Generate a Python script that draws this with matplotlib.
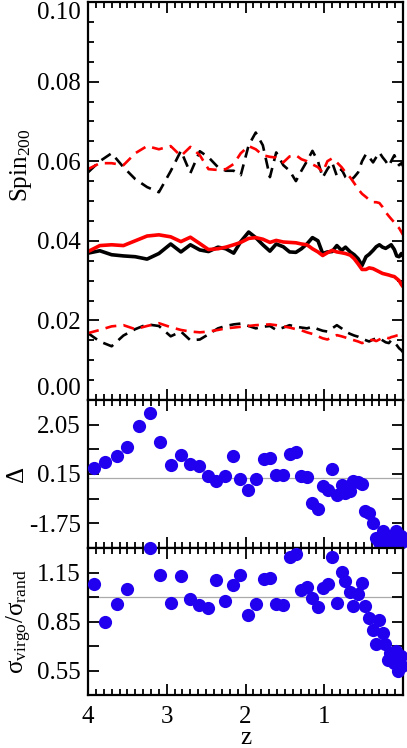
import numpy as np
import matplotlib
matplotlib.use('Agg')
import matplotlib.pyplot as plt
from matplotlib.ticker import MultipleLocator, FixedLocator

plt.rcParams['font.family'] = 'Liberation Serif'
plt.rcParams['mathtext.fontset'] = 'custom'
plt.rcParams['mathtext.rm'] = 'Liberation Serif'
plt.rcParams['mathtext.it'] = 'Liberation Serif:italic'
plt.rcParams['font.size'] = 18

# redshift grid of the spin curves
z_line = [4.00, 3.85, 3.70, 3.55, 3.40, 3.25, 3.10, 2.95, 2.82, 2.70, 2.58, 2.47, 2.35,
          2.25, 2.15, 2.06, 1.96, 1.87, 1.78, 1.69, 1.61, 1.52, 1.44, 1.36, 1.29, 1.22,
          1.15, 1.08, 1.02, 0.96, 0.90, 0.84, 0.78, 0.73, 0.67, 0.62, 0.57, 0.52, 0.47,
          0.43, 0.38, 0.34, 0.30, 0.26, 0.22, 0.18, 0.15, 0.11, 0.08, 0.05, 0.02, 0.00]

spin_black_med = [0.0369, 0.0375, 0.0365, 0.0362, 0.0360, 0.0354, 0.0368, 0.0392, 0.0372, 0.0390,
                  0.0377, 0.0373, 0.0384, 0.0380, 0.0369, 0.0398, 0.0422, 0.0408, 0.0390, 0.0374,
                  0.0392, 0.0385, 0.0372, 0.0371, 0.0380, 0.0392, 0.0408, 0.0400, 0.0368, 0.0372,
                  0.0373, 0.0388, 0.0376, 0.0384, 0.0372, 0.0365, 0.0355, 0.0338, 0.0360, 0.0366,
                  0.0376, 0.0385, 0.0390, 0.0384, 0.0381, 0.0386, 0.0390, 0.0378, 0.0362, 0.0360,
                  0.0368, 0.0362]
spin_red_med = [0.0373, 0.0388, 0.0390, 0.0388, 0.0400, 0.0412, 0.0415, 0.0410, 0.0398, 0.0409,
                0.0393, 0.0378, 0.0380, 0.0384, 0.0390, 0.0396, 0.0406, 0.0408, 0.0404, 0.0396,
                0.0401, 0.0397, 0.0396, 0.0395, 0.0392, 0.0390, 0.0380, 0.0372, 0.0363, 0.0370,
                0.0376, 0.0372, 0.0370, 0.0368, 0.0364, 0.0355, 0.0342, 0.0328, 0.0328, 0.0332,
                0.0330, 0.0326, 0.0322, 0.0318, 0.0316, 0.0314, 0.0312, 0.0310, 0.0305, 0.0300,
                0.0290, 0.0285]
spin_black_hi = [0.0572, 0.0600, 0.0620, 0.0585, 0.0555, 0.0535, 0.0522, 0.0575, 0.0626, 0.0570,
                 0.0625, 0.0610, 0.0585, 0.0576, 0.0576, 0.0565, 0.0640, 0.0672, 0.0640, 0.0560,
                 0.0622, 0.0590, 0.0576, 0.0550, 0.0576, 0.0600, 0.0626, 0.0600, 0.0559, 0.0580,
                 0.0597, 0.0563, 0.0580, 0.0560, 0.0551, 0.0560, 0.0572, 0.0600, 0.0618, 0.0610,
                 0.0597, 0.0610, 0.0622, 0.0610, 0.0600, 0.0588, 0.0600, 0.0615, 0.0600, 0.0590,
                 0.0595, 0.0588]
spin_red_hi = [0.0580, 0.0595, 0.0595, 0.0590, 0.0620, 0.0638, 0.0630, 0.0638, 0.0613, 0.0636,
               0.0615, 0.0580, 0.0578, 0.0580, 0.0593, 0.0620, 0.0638, 0.0630, 0.0615, 0.0611,
               0.0609, 0.0597, 0.0612, 0.0615, 0.0605, 0.0600, 0.0592, 0.0585, 0.0572, 0.0600,
               0.0607, 0.0597, 0.0585, 0.0572, 0.0559, 0.0545, 0.0530, 0.0518, 0.0510, 0.0503,
               0.0497, 0.0497, 0.0495, 0.0485, 0.0472, 0.0462, 0.0455, 0.0446, 0.0438, 0.0432,
               0.0422, 0.0415]
spin_black_lo = [0.0168, 0.0147, 0.0135, 0.0162, 0.0178, 0.0190, 0.0186, 0.0160, 0.0172, 0.0150,
                 0.0152, 0.0165, 0.0180, 0.0186, 0.0190, 0.0192, 0.0186, 0.0180, 0.0184, 0.0186,
                 0.0176, 0.0182, 0.0188, 0.0184, 0.0182, 0.0180, 0.0184, 0.0178, 0.0174, 0.0172,
                 0.0180, 0.0188, 0.0180, 0.0172, 0.0166, 0.0162, 0.0159, 0.0154, 0.0150, 0.0147,
                 0.0152, 0.0155, 0.0155, 0.0150, 0.0145, 0.0143, 0.0150, 0.0145, 0.0138, 0.0130,
                 0.0125, 0.0120]
spin_red_lo = [0.0168, 0.0176, 0.0185, 0.0188, 0.0178, 0.0186, 0.0193, 0.0183, 0.0176, 0.0172,
               0.0170, 0.0172, 0.0176, 0.0180, 0.0182, 0.0184, 0.0186, 0.0188, 0.0189, 0.0190,
               0.0188, 0.0185, 0.0182, 0.0178, 0.0175, 0.0170, 0.0166, 0.0160, 0.0155, 0.0152,
               0.0158, 0.0163, 0.0160, 0.0157, 0.0153, 0.0150, 0.0147, 0.0143, 0.0146, 0.0150,
               0.0151, 0.0148, 0.0152, 0.0156, 0.0158, 0.0155, 0.0158, 0.0160, 0.0162, 0.0163,
               0.0155, 0.0160]

# redshift grid of the dot panels
z_dots = [3.93, 3.78, 3.63, 3.50, 3.35, 3.21, 3.08, 2.95, 2.82, 2.70, 2.59, 2.47, 2.37,
          2.26, 2.16, 2.07, 1.97, 1.87, 1.77, 1.69, 1.61, 1.52, 1.44, 1.36, 1.30, 1.22,
          1.15, 1.08, 1.02, 0.95, 0.90, 0.84, 0.78, 0.74, 0.67, 0.63, 0.57, 0.52, 0.48,
          0.43, 0.38, 0.34, 0.30, 0.26, 0.23, 0.19, 0.16, 0.12, 0.09, 0.06, 0.03, 0.01]

delta = [0.38, 0.62, 0.86, 1.18, 2.00, 2.49, 1.39, 0.51, 0.90, 0.55, 0.45, 0.06, -0.13,
         0.09, 0.83, -0.04, -0.46, -0.04, 0.71, 0.77, 0.12, 0.10, 0.91, 1.00, 0.09, 0.03,
         -0.97, -1.21, -0.33, -0.48, 0.34, -0.65, -0.29, -0.59, -0.52, -0.13, -0.16, -0.24, -1.27,
         -1.34, -1.72, -2.30, -2.45, -2.05, -2.35, -2.45, -2.30, -2.40, -2.05, -2.50, -2.25, -2.45]

sigma_ratio = [1.078, 0.846, 0.955, 1.051, 1.36, 1.30, 1.134, 0.963, 1.127, 0.990, 0.949, 0.932, 1.107,
               0.975, 1.072, 1.134, 0.891, 0.959, 1.109, 1.119, 0.959, 0.949, 1.247, 1.261, 1.041, 1.062,
               0.994, 0.938, 1.058, 1.082, 1.242, 0.963, 1.154, 1.097, 1.031, 0.944, 1.016, 1.088, 0.944,
               0.87, 0.80, 0.71, 0.86, 0.78, 0.71, 0.615, 0.66, 0.595, 0.67, 0.55, 0.64, 0.58]

W, H = 407, 748
fig = plt.figure(figsize=(W / 100, H / 100), dpi=100)
left, width = 88 / W, 315 / W
ax1 = fig.add_axes([left, 1 - 400 / H, width, 398 / H])
ax2 = fig.add_axes([left, 1 - 548 / H, width, 148 / H])
ax3 = fig.add_axes([left, 1 - 695 / H, width, 147 / H])

dash = (4.2, 2.7)
ax1.plot(z_line, spin_black_hi, color='black', lw=1.9, dashes=dash)
ax1.plot(z_line, spin_black_lo, color='black', lw=1.9, dashes=dash)
ax1.plot(z_line, spin_red_hi, color='red', lw=1.9, dashes=dash)
ax1.plot(z_line, spin_red_lo, color='red', lw=1.9, dashes=dash)
ax1.plot(z_line, spin_black_med, color='black', lw=2.6)
ax1.plot(z_line, spin_red_med, color='red', lw=2.6)
ax1.set_ylim(0, 0.1)
ax1.set_yticks([0.0, 0.02, 0.04, 0.06, 0.08, 0.10], ['0.00', '0.02', '0.04', '0.06', '0.08', '0.10'])
ax1.yaxis.set_minor_locator(MultipleLocator(0.005))
ax1.set_ylabel(r'Spin$_{200}$')
ax1.yaxis.set_label_coords(-0.17, 0.59)

blue = '#2000ee'
z_arr = np.array(z_dots)
d_arr = np.array(delta)
s_arr = np.array(sigma_ratio)

ax2.axhline(0.0, color='#aaaaaa', lw=0.9, zorder=1)
m = (d_arr >= -2.7) & (d_arr <= 3.0)
ax2.plot(z_arr[m], d_arr[m], 'o', color=blue, ms=9.5, mew=0, clip_on=False, zorder=3)
ax2.set_ylim(-2.7, 3.0)
ax2.set_yticks([-2.7, -1.75, -0.8, 0.15, 1.1, 2.05, 3.0], ['', '-1.75', '', '0.15', '', '2.05', ''])
ax2.set_ylabel('Δ')
ax2.yaxis.set_label_coords(-0.19, 0.5)

ax3.axhline(1.0, color='#aaaaaa', lw=0.9, zorder=1)
m = (s_arr >= 0.4) & (s_arr <= 1.3)
ax3.plot(z_arr[m], s_arr[m], 'o', color=blue, ms=9.5, mew=0, clip_on=False, zorder=3)
ax3.set_ylim(0.4, 1.3)
ax3.set_yticks([0.4, 0.55, 0.7, 0.85, 1.0, 1.15, 1.3], ['', '0.55', '', '0.85', '', '1.15', ''])
ax3.set_ylabel(r'$\mathrm{\sigma_{virgo}/\sigma_{rand}}$')
ax3.yaxis.set_label_coords(-0.17, 0.5)
ax3.set_xlabel('z')
ax3.xaxis.set_label_coords(0.5, -49 / 147)
ax3.xaxis.label.set_va('baseline')

for ax in (ax1, ax2, ax3):
    ax.set_xlim(4, 0)
    ax.set_xticks([4, 3, 2, 1, 0])
    ax.xaxis.set_minor_locator(MultipleLocator(0.1))
    ax.tick_params(which='both', direction='in', top=True, right=True, width=1.3)
    ax.tick_params(which='major', length=8)
    ax.tick_params(which='minor', length=4)
    ax.tick_params(axis='y', pad=5)
    ax.tick_params(axis='x', pad=8)
    for s in ax.spines.values():
        s.set_linewidth(1.6)
    if ax is not ax3:
        ax.tick_params(axis='x', labelbottom=False)
ax3.set_xticklabels(['4', '3', '2', '1', ''])

labs = ax1.get_yticklabels()
labs[-1].set_va('top')
labs[0].set_va('bottom')

fig.savefig('out.png', dpi=100)
